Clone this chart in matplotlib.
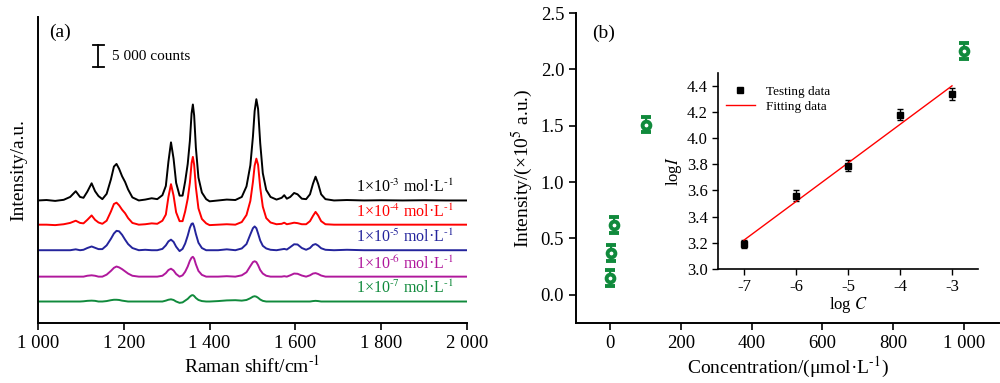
import matplotlib
matplotlib.use('Agg')
import matplotlib.pyplot as plt
from matplotlib.lines import Line2D

plt.rcParams['font.family'] = ['Liberation Serif', 'DejaVu Serif']
plt.rcParams['mathtext.fontset'] = 'stix'
plt.rcParams['axes.unicode_minus'] = False

# ---- (a) SERS spectra, counts above each baseline ----
raman_shift = [1000, 1020, 1040, 1060, 1075, 1088, 1098, 1106, 1115, 1125,
               1133, 1141, 1150, 1160, 1170, 1177, 1183, 1189, 1196, 1203,
               1210, 1220, 1235, 1250, 1265, 1278, 1290, 1298, 1304, 1310,
               1316, 1322, 1330, 1337, 1343, 1349, 1354, 1358, 1361, 1364,
               1368, 1374, 1382, 1392, 1400, 1420, 1440, 1460, 1475, 1486,
               1495, 1501, 1505, 1509, 1513, 1518, 1524, 1532, 1542, 1556,
               1568, 1574, 1580, 1588, 1597, 1605, 1615, 1625, 1634, 1641,
               1647, 1653, 1660, 1670, 1690, 1720, 1760, 1800, 1850, 1900,
               1950, 2000]

spec_1e3 = [0, 100, -100, 150, 800, 2100, 800, 600, 2000, 3900,
            2100, 1000, 300, 1500, 4800, 7700, 8300, 7200, 5500, 4200,
            2500, 700, 0, 200, 500, 300, 1200, 3300, 8800, 13200,
            9500, 4000, 1100, 1100, 4300, 8300, 13500, 19800, 21800, 19300,
            12000, 5200, 1800, 300, -200, 0, 200, 100, 800, 3200,
            8000, 14500, 20300, 23000, 20800, 13000, 6200, 2400, 800, 200,
            600, 1200, 400, 800, 1700, 1400, 400, 300, 1400, 3800,
            5400, 3800, 1400, 300, 0, 100, 0, 50, 0, 50,
            0, 0]
spec_1e4 = [0, 0, -100, 100, 400, 900, 400, 300, 1100, 2100,
            1100, 500, 200, 900, 3000, 4700, 5000, 4400, 3400, 2600,
            1500, 400, 0, 100, 300, 200, 900, 2300, 6300, 9200,
            6600, 2800, 800, 800, 3000, 5900, 9500, 14000, 15400, 13600,
            8500, 3700, 1300, 300, -100, 0, 100, 0, 600, 2200,
            5400, 9700, 13400, 15000, 13600, 8400, 4100, 1500, 500, 100,
            200, 450, 100, 250, 450, 350, 100, 100, 800, 2000,
            2900, 2100, 800, 100, 0, 0, 0, 0, 0, 0,
            0, 0]
spec_1e5 = [0, 0, 0, 0, 0, 200, 0, 100, 500, 850,
            550, 250, 250, 1100, 2600, 3800, 4400, 4300, 3500, 2400,
            1400, 500, 0, 100, 0, 0, 300, 1100, 2000, 2400,
            1900, 800, -200, 300, 1500, 3300, 5100, 6000, 6100, 5300,
            3700, 1700, 500, 0, 0, 0, 200, 0, 400, 1400,
            3600, 5000, 5400, 5000, 3800, 2200, 1000, 400, 100, 0,
            200, 300, 150, 700, 1350, 1300, 500, 100, 500, 1200,
            1400, 1050, 450, 100, 0, 100, 0, 0, 0, 0,
            0, 0]
spec_1e6 = [0, 0, 0, 0, 0, 0, 0, 0, 200, 300,
            200, 0, 0, 450, 1300, 2000, 2300, 2100, 1700, 1200,
            700, 200, 0, 0, 0, 0, 200, 800, 1500, 1800,
            1400, 600, 0, 300, 1100, 2300, 3600, 4300, 4500, 4100,
            2800, 1300, 400, 0, 0, 0, 100, 0, 300, 1000,
            2400, 3300, 3500, 3300, 2600, 1500, 700, 200, 0, 0,
            0, 100, 0, 300, 700, 650, 250, 0, 300, 700,
            800, 600, 250, 0, 0, 0, 0, 0, 0, 0,
            0, 0]
spec_1e7 = [0, 0, 0, 0, 0, 0, 0, 50, 150, 200,
            150, 0, 0, 100, 300, 400, 400, 350, 200, 100,
            0, 0, 0, 0, 0, 0, 0, 200, 400, 500,
            350, 0, -300, -200, 200, 600, 1100, 1400, 1450, 1250,
            800, 350, 100, 0, 0, 100, 250, 300, 200, 350,
            750, 1100, 1200, 1100, 850, 450, 150, 0, 0, 0,
            0, 0, 0, 0, 0, 0, 0, 0, 0, 100,
            150, 100, 0, 0, 0, 0, 0, 0, 0, 0,
            0, 0]

spectra = [spec_1e3, spec_1e4, spec_1e5, spec_1e6, spec_1e7]
spec_labels = [r'1×10$^{\text{-3}}$ mol·L$^{\text{-1}}$', r'1×10$^{\text{-4}}$ mol·L$^{\text{-1}}$',
               r'1×10$^{\text{-5}}$ mol·L$^{\text{-1}}$', r'1×10$^{\text{-6}}$ mol·L$^{\text{-1}}$',
               r'1×10$^{\text{-7}}$ mol·L$^{\text{-1}}$']
spec_colors = ['#000000', '#ff0000', '#24249c', '#b0189c', '#108a3c']
offsets = [27800, 22300, 16500, 10500, 4850]

# ---- (b) intensity vs concentration ----
conc = [0.1, 1, 10, 100, 1000]
intensity = [0.15, 0.37, 0.62, 1.51, 2.16]
intensity_err = [0.07, 0.07, 0.07, 0.07, 0.07]

# inset: log-log
log_c = [-7, -6, -5, -4, -3]
log_i = [3.19, 3.56, 3.79, 4.18, 4.335]
log_i_err = [0.03, 0.04, 0.045, 0.045, 0.045]
fit_x = [-7, -3]
fit_y = [3.22, 4.40]

green = '#108a3c'


def style_axes(ax, width=1.4):
    for s in ['top', 'right']:
        ax.spines[s].set_visible(False)
    for s in ['left', 'bottom']:
        ax.spines[s].set_linewidth(width)
    ax.tick_params(direction='out', length=5, width=1.2)


fig = plt.figure(figsize=(10, 3.83), dpi=100)

# panel (a)
ax1 = fig.add_axes([0.038, 0.157, 0.429, 0.799])
style_axes(ax1)
for y, off, col, lab in zip(spectra, offsets, spec_colors, spec_labels):
    ax1.plot(raman_shift, [v + off for v in y], color=col, lw=1.4)
    ax1.text(1970, off + 2900, lab, color=col, ha='right', va='center', fontsize=11.5)
ax1.set_xlim(1000, 2000)
ax1.set_ylim(0, 69500)
ax1.set_yticks([])
ax1.set_xticks([1000, 1200, 1400, 1600, 1800, 2000])
ax1.set_xticklabels(['1 000', '1 200', '1 400', '1 600', '1 800', '2 000'], fontsize=13.5)
ax1.set_xlabel(r'Raman shift/cm$^{\text{-1}}$', fontsize=14, labelpad=2)
ax1.set_ylabel('Intensity/a.u.', fontsize=14, labelpad=8)
ax1.text(1025, 66000, '(a)', fontsize=14, ha='left', va='center')
# 5 000 counts scale bar
ax1.plot([1140, 1140], [58000, 63000], color='black', lw=1.3)
ax1.plot([1128, 1154], [58000, 58000], color='black', lw=1.3)
ax1.plot([1128, 1154], [63000, 63000], color='black', lw=1.3)
ax1.text(1172, 60500, '5 000 counts', fontsize=11, ha='left', va='center')

# panel (b)
ax2 = fig.add_axes([0.576, 0.157, 0.423, 0.809])
style_axes(ax2)
ax2.errorbar(conc, intensity, yerr=intensity_err, fmt='o', color=green,
             mfc='white', mec=green, ms=5.6, mew=2.8, elinewidth=1.5,
             capsize=3.8, capthick=1.5)
ax2.set_xlim(-97, 1100)
ax2.set_ylim(-0.25, 2.5)
ax2.set_xticks([0, 200, 400, 600, 800, 1000])
ax2.set_xticklabels(['0', '200', '400', '600', '800', '1 000'], fontsize=13.5)
ax2.set_yticks([0.0, 0.5, 1.0, 1.5, 2.0, 2.5])
ax2.set_yticklabels(['0.0', '0.5', '1.0', '1.5', '2.0', '2.5'], fontsize=13.5)
ax2.set_xlabel(r'Concentration/(μmol·L$^{\text{-1}}$)', fontsize=14, labelpad=2)
ax2.set_ylabel(r'Intensity/(×10$^5$ a.u.)', fontsize=14, labelpad=4)
ax2.text(-50, 2.32, '(b)', fontsize=14, ha='left', va='center')

# inset
ax3 = fig.add_axes([0.718, 0.298, 0.26, 0.512])
style_axes(ax3, width=1.2)
ax3.patch.set_alpha(0)
ax3.tick_params(length=4, width=1.0)
ax3.errorbar(log_c, log_i, yerr=log_i_err, fmt='s', color='black', ms=4.5,
             elinewidth=1.0, capsize=2.5, capthick=1.0)
ax3.plot(fit_x, fit_y, color='#ff0000', lw=1.0)
ax3.set_xlim(-7.5, -2.5)
ax3.set_ylim(3.0, 4.5)
ax3.set_xticks(log_c)
ax3.set_xticklabels(['-7', '-6', '-5', '-4', '-3'], fontsize=12)
ax3.set_yticks([3.0, 3.2, 3.4, 3.6, 3.8, 4.0, 4.2, 4.4])
ax3.set_yticklabels(['3.0', '3.2', '3.4', '3.6', '3.8', '4.0', '4.2', '4.4'], fontsize=12)
ax3.set_xlabel(r'log $\mathit{C}$', fontsize=12, labelpad=0)
ax3.set_ylabel(r'log$\mathit{I}$', fontsize=12, labelpad=2)
handles = [Line2D([], [], marker='s', ls='none', color='black', ms=4.5),
           Line2D([], [], color='#ff0000', lw=1.0)]
ax3.legend(handles, ['Testing data', 'Fitting data'], loc='upper left',
           bbox_to_anchor=(-0.01, 0.99), frameon=False, fontsize=9.5,
           handlelength=2.2, borderpad=0.3, labelspacing=0.25)

fig.savefig('out.png', dpi=100)
